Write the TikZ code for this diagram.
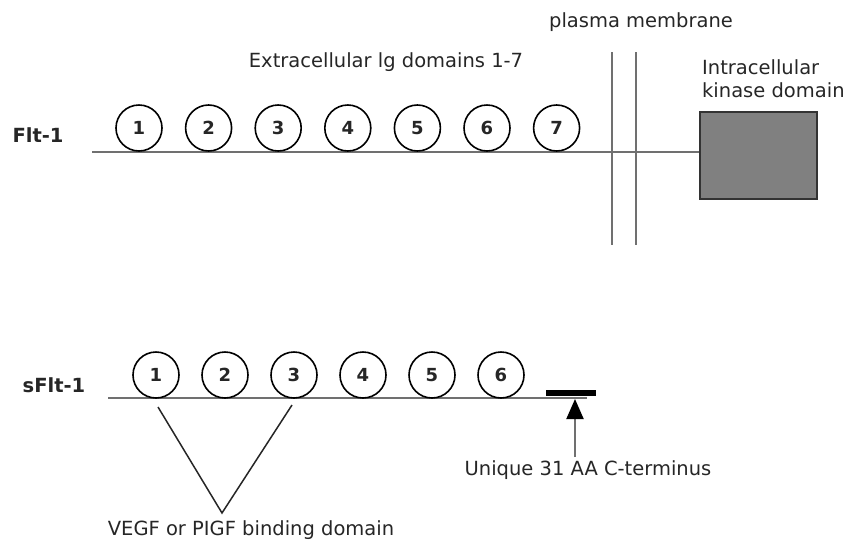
\documentclass[tikz,border=0pt]{standalone}
\usepackage{fontspec}
\setmainfont{DejaVu Sans}
\usetikzlibrary{arrows.meta}
\definecolor{stalk}{RGB}{112,112,112}
\definecolor{kinase}{RGB}{128,128,128}
\newcommand{\lblfont}{\fontsize{19.5}{23}\selectfont}
\newcommand{\igdomain}[3]{
	\node [draw, fill=white, circle, minimum size=46pt, inner sep=0pt, line width=1.6pt] (#1) at (#2) {\fontsize{18}{18}\selectfont\bfseries #3};}

\begin{document}
\begin{tikzpicture}[x=1pt,y=-1pt,every node/.style={text=black!85}]
	\useasboundingbox (0,0) rectangle (846,547);
	% full length receptor
	\coordinate (f0) at (92,152);
	\node [draw=black!80, fill=kinase, line width=1.5pt, minimum width=117pt, minimum height=87pt, inner sep=0pt] (kin) at (758.5,155.5) {};
	\draw [stalk, line width=2.5pt] (f0) -- (f0 -| kin.west);
	\foreach \i in {1,...,7}
		\igdomain{f\i}{{139+69.6*(\i-1)},128}{\i}
	\coordinate (m1) at (612,52);
	\coordinate (m2) at (636,52);
	\draw [stalk, line width=2pt] (m1) -- ++(0,193);
	\draw [stalk, line width=2pt] (m2) -- ++(0,193);
	\node [font=\lblfont] (ext) at (386,62) {Extracellular lg domains 1-7};
	\node [font=\lblfont] (pm) at (641,22) {plasma membrane};
	\node [font=\lblfont, align=left, anchor=west, inner sep=0pt] (intra) at (702,78.5) {Intracellular\\kinase domain};
	\node [font=\lblfont\bfseries] (flt) at (38,135) {Flt-1};

	% soluble form
	\coordinate (s0) at (108,398);
	\coordinate (s1) at (587,398);
	\draw [stalk, line width=2.5pt] (s0) -- (s1);
	\foreach \i in {1,...,6}
		\igdomain{s\i}{{156+69*(\i-1)},375}{\i}
	\node [fill=black, minimum width=50pt, minimum height=6pt, inner sep=0pt] (cterm) at (571,392.5) {};
	\node [font=\lblfont\bfseries] (sflt) at (54,385) {sFlt-1};
	\node [font=\lblfont] (uniq) at (588,470) {Unique 31 AA C-terminus};
	\coordinate (ctip) at (575,399);
	\draw [stalk, line width=2pt, -{Triangle[length=20pt,width=17pt,black]}] (ctip |- uniq.north) -- (ctip);
	\coordinate (v1) at (158,407);
	\coordinate (v2) at (222,513);
	\coordinate (v3) at (292,405);
	\draw [black!85, line width=1.5pt] (v1) -- (v2) -- (v3);
	\node [font=\lblfont] (bind) at (251,530) {VEGF or PIGF binding domain};
\end{tikzpicture}
\end{document}
